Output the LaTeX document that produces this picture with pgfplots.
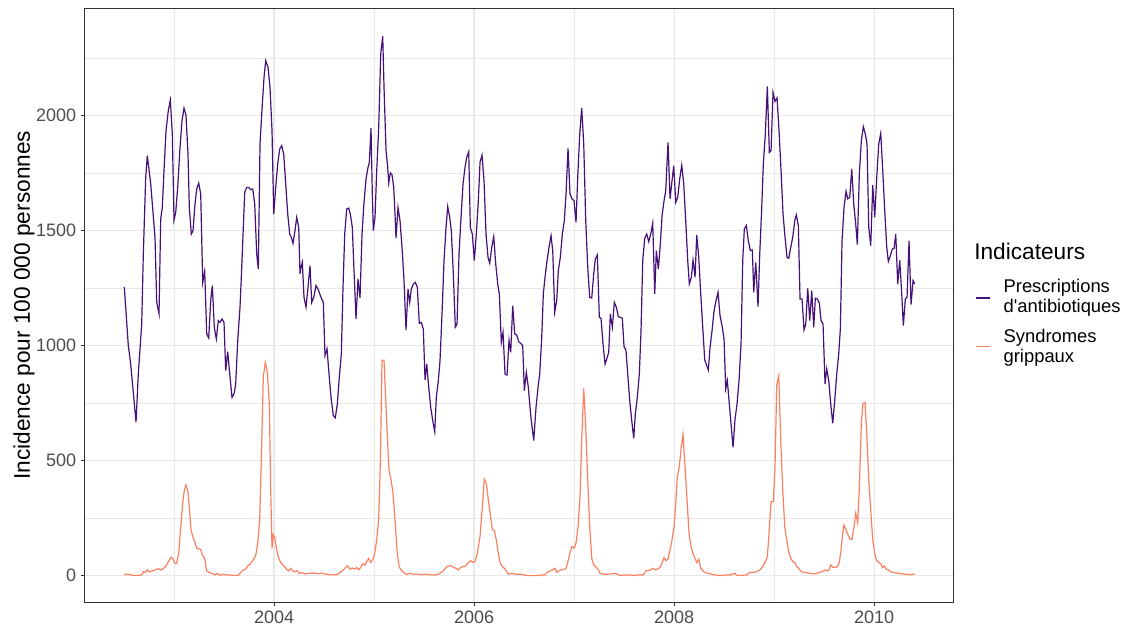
\documentclass[border=0pt]{standalone}
\usepackage{fontspec}
\setmainfont{Liberation Sans}[Ligatures=TeXOff]
\usepackage{pgfplots}
\pgfplotsset{compat=1.18}

\definecolor{antibio}{RGB}{69,16,119}
\definecolor{grippe}{RGB}{250,128,95}
\definecolor{gridgrey}{RGB}{232,232,232}
\definecolor{framegrey}{RGB}{51,51,51}
\definecolor{ticktext}{RGB}{77,77,77}

\begin{document}
\begin{tikzpicture}
\begin{axis}[
  scale only axis,
  width=651.4pt, height=445.9pt,
  xmin=2002.104, xmax=2010.789,
  ymin=-117, ymax=2468,
  xtick={2004,2006,2008,2010},
  xticklabels={2004,2006,2008,2010},
  minor xtick={2003,2005,2007,2009},
  ytick={0,500,1000,1500,2000},
  yticklabels={0,500,1000,1500,2000},
  minor ytick={250,750,1250,1750,2250},
  xtick pos=left, ytick pos=left,
  grid=both,
  major grid style={gridgrey, line width=0.95pt},
  minor grid style={gridgrey, line width=0.5pt},
  tick align=outside,
  major tick length=2.7pt,
  minor tick length=0pt,
  tick style={framegrey, line width=0.6pt},
  axis line style={framegrey, line width=0.6pt},
  tick label style={font=\fontsize{13.5}{15}\selectfont, text=ticktext},
  ylabel={Incidence pour 100 000 personnes},
  ylabel style={at={(rel axis cs:-0.0697,0.5)}, anchor=center, rotate=0,
    font=\fontsize{17}{18}\selectfont},
  clip=false,
]
% Prescriptions d'antibiotiques
\addplot[antibio, line width=0.9pt] coordinates {
(2002.502,1254) (2002.542,1000) (2002.566,920) (2002.619,667) (2002.642,877)
(2002.676,1094) (2002.692,1398) (2002.716,1732) (2002.732,1826) (2002.766,1703)
(2002.809,1471) (2002.826,1188) (2002.849,1138) (2002.866,1551) (2002.882,1601)
(2002.899,1761) (2002.919,1935) (2002.942,2022) (2002.962,2068) (2002.982,1920)
(2002.999,1546) (2003.016,1580) (2003.036,1688) (2003.059,1862) (2003.079,1978)
(2003.099,2033) (2003.119,2000) (2003.139,1833) (2003.152,1601) (2003.172,1485)
(2003.189,1500) (2003.209,1616) (2003.226,1681) (2003.246,1707) (2003.266,1659)
(2003.286,1275) (2003.306,1323) (2003.326,1051) (2003.346,1033) (2003.366,1196)
(2003.382,1261) (2003.402,1080) (2003.422,1029) (2003.442,1109) (2003.459,1101)
(2003.479,1116) (2003.499,1101) (2003.516,891) (2003.536,974) (2003.556,877)
(2003.579,775) (2003.599,790) (2003.616,833) (2003.636,1022) (2003.659,1167)
(2003.679,1370) (2003.706,1667) (2003.726,1688) (2003.746,1688) (2003.766,1678)
(2003.786,1681) (2003.806,1616) (2003.826,1398) (2003.842,1333) (2003.859,1877)
(2003.882,2050) (2003.899,2166) (2003.916,2239) (2003.939,2210) (2003.959,2123)
(2003.979,1935) (2003.996,1572) (2004.016,1688) (2004.036,1790) (2004.056,1855)
(2004.076,1869) (2004.096,1833) (2004.116,1703) (2004.136,1572) (2004.156,1485)
(2004.172,1471) (2004.189,1445) (2004.209,1500) (2004.226,1558) (2004.246,1514)
(2004.259,1312) (2004.269,1341) (2004.282,1362) (2004.299,1210) (2004.319,1167)
(2004.339,1254) (2004.359,1348) (2004.376,1188) (2004.396,1210) (2004.419,1261)
(2004.439,1246) (2004.469,1210) (2004.492,1188) (2004.509,957) (2004.529,986)
(2004.549,877) (2004.569,775) (2004.592,696) (2004.612,686) (2004.632,746)
(2004.652,862) (2004.672,964) (2004.689,1254) (2004.706,1485) (2004.726,1594)
(2004.746,1598) (2004.762,1572) (2004.782,1514) (2004.799,1326) (2004.819,1116)
(2004.839,1290) (2004.859,1207) (2004.879,1485) (2004.899,1623) (2004.919,1725)
(2004.939,1775) (2004.952,1797) (2004.969,1946) (2004.982,1659) (2004.992,1500)
(2005.009,1558) (2005.026,1761) (2005.046,1949) (2005.066,2268) (2005.086,2345)
(2005.099,2123) (2005.119,1848) (2005.136,1775) (2005.146,1707) (2005.162,1751)
(2005.179,1743) (2005.196,1688) (2005.209,1572) (2005.219,1468) (2005.239,1601)
(2005.259,1543) (2005.279,1427) (2005.299,1283) (2005.319,1068) (2005.339,1246)
(2005.356,1188) (2005.372,1246) (2005.392,1268) (2005.412,1275) (2005.432,1254)
(2005.452,1097) (2005.472,1101) (2005.492,1072) (2005.509,851) (2005.526,920)
(2005.546,819) (2005.566,732) (2005.586,674) (2005.606,626) (2005.622,775)
(2005.642,848) (2005.659,935) (2005.679,1138) (2005.699,1370) (2005.719,1514)
(2005.736,1604) (2005.756,1558) (2005.772,1500) (2005.792,1312) (2005.812,1080)
(2005.829,1094) (2005.849,1398) (2005.869,1558) (2005.889,1703) (2005.909,1775)
(2005.926,1819) (2005.946,1843) (2005.962,1514) (2005.982,1485) (2006.002,1370)
(2006.022,1485) (2006.042,1630) (2006.059,1797) (2006.079,1829) (2006.099,1717)
(2006.119,1485) (2006.139,1384) (2006.156,1358) (2006.176,1427) (2006.196,1474)
(2006.216,1355) (2006.236,1268) (2006.252,1225) (2006.272,1014) (2006.289,1058)
(2006.309,877) (2006.329,872) (2006.349,1022) (2006.366,971) (2006.386,1174)
(2006.406,1051) (2006.426,1046) (2006.446,1017) (2006.466,1010) (2006.486,1000)
(2006.502,804) (2006.522,884) (2006.542,819) (2006.566,696) (2006.596,587)
(2006.619,732) (2006.639,819) (2006.656,877) (2006.676,1036) (2006.692,1225)
(2006.709,1297) (2006.729,1369) (2006.749,1427) (2006.769,1478) (2006.786,1413)
(2006.806,1145) (2006.826,1196) (2006.842,1326) (2006.862,1384) (2006.882,1485)
(2006.902,1543) (2006.919,1659) (2006.939,1858) (2006.959,1659) (2006.979,1638)
(2006.999,1630) (2007.019,1536) (2007.036,1732) (2007.056,1920) (2007.076,2033)
(2007.096,1877) (2007.116,1543) (2007.136,1341) (2007.156,1210) (2007.176,1207)
(2007.196,1312) (2007.212,1377) (2007.232,1394) (2007.252,1123) (2007.269,1119)
(2007.289,1007) (2007.309,920) (2007.326,942) (2007.346,971) (2007.362,1138)
(2007.382,1080) (2007.402,1188) (2007.422,1167) (2007.442,1126) (2007.462,1123)
(2007.482,1119) (2007.499,996) (2007.519,978) (2007.536,877) (2007.556,761)
(2007.576,674) (2007.596,597) (2007.612,703) (2007.632,775) (2007.652,877)
(2007.669,1065) (2007.686,1370) (2007.706,1467) (2007.726,1485) (2007.746,1452)
(2007.766,1485) (2007.786,1533) (2007.806,1225) (2007.822,1413) (2007.842,1333)
(2007.862,1442) (2007.879,1565) (2007.899,1630) (2007.916,1674) (2007.939,1884)
(2007.959,1638) (2007.979,1717) (2007.996,1782) (2008.016,1623) (2008.036,1645)
(2008.056,1725) (2008.076,1785) (2008.096,1703) (2008.116,1543) (2008.136,1369)
(2008.152,1268) (2008.172,1297) (2008.189,1372) (2008.209,1297) (2008.226,1481)
(2008.246,1384) (2008.266,1225) (2008.286,1080) (2008.306,938) (2008.326,913)
(2008.342,894) (2008.359,990) (2008.379,1065) (2008.399,1152) (2008.419,1196)
(2008.439,1232) (2008.459,1130) (2008.479,1087) (2008.499,1029) (2008.516,812)
(2008.532,848) (2008.549,761) (2008.569,659) (2008.589,558) (2008.609,681)
(2008.629,746) (2008.649,848) (2008.669,1007) (2008.686,1370) (2008.702,1507)
(2008.722,1522) (2008.742,1456) (2008.762,1413) (2008.782,1416) (2008.796,1232)
(2008.816,1362) (2008.839,1170) (2008.856,1398) (2008.876,1601) (2008.892,1790)
(2008.912,1920) (2008.932,2127) (2008.952,1840) (2008.969,1848) (2008.989,2101)
(2009.009,2062) (2009.029,2077) (2009.049,1935) (2009.069,1761) (2009.089,1572)
(2009.109,1471) (2009.129,1384) (2009.146,1380) (2009.166,1427) (2009.186,1471)
(2009.206,1543) (2009.222,1568) (2009.242,1522) (2009.259,1203) (2009.279,1203)
(2009.299,1068) (2009.316,1094) (2009.336,1249) (2009.356,1109) (2009.376,1239)
(2009.396,1080) (2009.412,1206) (2009.432,1203) (2009.452,1184) (2009.469,1109)
(2009.489,1094) (2009.509,833) (2009.526,899) (2009.546,848) (2009.566,746)
(2009.586,662) (2009.606,761) (2009.626,877) (2009.646,964) (2009.662,1072)
(2009.679,1456) (2009.699,1601) (2009.719,1671) (2009.736,1638) (2009.756,1645)
(2009.776,1768) (2009.796,1616) (2009.816,1529) (2009.832,1439) (2009.852,1746)
(2009.872,1891) (2009.892,1952) (2009.912,1920) (2009.929,1877) (2009.946,1514)
(2009.966,1435) (2009.986,1698) (2010.006,1558) (2010.026,1732) (2010.046,1877)
(2010.066,1923) (2010.086,1761) (2010.106,1587) (2010.126,1427) (2010.142,1366)
(2010.162,1391) (2010.182,1420) (2010.199,1423) (2010.216,1485) (2010.236,1268)
(2010.256,1372) (2010.276,1225) (2010.292,1087) (2010.312,1203) (2010.329,1210)
(2010.349,1456) (2010.369,1178) (2010.389,1283) (2010.406,1268)
};
% Syndromes grippaux
\addplot[grippe, line width=0.9pt] coordinates {
(2002.502,3) (2002.526,7) (2002.559,4) (2002.592,1) (2002.642,1)
(2002.676,3) (2002.692,17) (2002.712,14) (2002.732,25) (2002.752,16)
(2002.776,20) (2002.809,25) (2002.842,30) (2002.866,25) (2002.892,30)
(2002.919,42) (2002.942,59) (2002.969,80) (2002.986,75) (2003.006,54)
(2003.026,54) (2003.046,97) (2003.066,213) (2003.086,314) (2003.102,372)
(2003.119,394) (2003.136,372) (2003.152,300) (2003.169,199) (2003.186,170)
(2003.206,148) (2003.226,119) (2003.246,116) (2003.266,114) (2003.286,85)
(2003.306,75) (2003.326,20) (2003.349,14) (2003.376,10) (2003.409,3)
(2003.432,10) (2003.459,1) (2003.492,6) (2003.526,3) (2003.559,3)
(2003.599,1) (2003.642,1) (2003.666,14) (2003.692,25) (2003.716,28)
(2003.736,43) (2003.759,49) (2003.786,65) (2003.816,87) (2003.836,141)
(2003.856,242) (2003.872,503) (2003.892,865) (2003.912,927) (2003.932,887)
(2003.952,749) (2003.966,372) (2003.979,119) (2003.992,177) (2004.006,165)
(2004.026,112) (2004.046,75) (2004.066,58) (2004.086,46) (2004.106,39)
(2004.126,28) (2004.146,20) (2004.166,32) (2004.186,20) (2004.209,17)
(2004.232,22) (2004.252,10) (2004.276,13) (2004.309,7) (2004.342,10)
(2004.392,12) (2004.426,9) (2004.476,10) (2004.526,6) (2004.576,3)
(2004.626,4) (2004.659,13) (2004.692,25) (2004.716,36) (2004.736,42)
(2004.759,28) (2004.782,33) (2004.802,29) (2004.826,35) (2004.846,25)
(2004.866,36) (2004.886,51) (2004.909,46) (2004.926,61) (2004.946,75)
(2004.966,57) (2004.986,68) (2005.006,97) (2005.026,155) (2005.046,249)
(2005.062,488) (2005.079,937) (2005.099,937) (2005.119,735) (2005.139,546)
(2005.149,459) (2005.169,416) (2005.189,358) (2005.209,242) (2005.229,112)
(2005.249,39) (2005.269,25) (2005.292,14) (2005.326,6) (2005.359,10)
(2005.392,6) (2005.426,7) (2005.476,4) (2005.526,6) (2005.576,3)
(2005.626,4) (2005.659,10) (2005.692,20) (2005.719,36) (2005.742,42)
(2005.769,43) (2005.792,36) (2005.816,32) (2005.842,25) (2005.866,36)
(2005.892,39) (2005.916,42) (2005.942,57) (2005.966,65) (2005.986,57)
(2006.009,61) (2006.032,97) (2006.059,170) (2006.082,300) (2006.102,419)
(2006.122,401) (2006.142,329) (2006.162,264) (2006.182,201) (2006.202,196)
(2006.222,155) (2006.242,97) (2006.262,54) (2006.282,39) (2006.302,32)
(2006.322,20) (2006.342,6) (2006.376,10) (2006.409,6) (2006.476,6)
(2006.526,0) (2006.576,0) (2006.626,0) (2006.676,3) (2006.709,3)
(2006.732,14) (2006.759,20) (2006.786,25) (2006.809,32) (2006.826,14)
(2006.852,22) (2006.876,25) (2006.899,28) (2006.919,30) (2006.942,68)
(2006.962,104) (2006.979,126) (2006.999,119) (2007.019,141) (2007.039,213)
(2007.059,343) (2007.076,590) (2007.096,814) (2007.116,648) (2007.136,416)
(2007.156,213) (2007.176,75) (2007.196,46) (2007.216,39) (2007.236,29)
(2007.259,10) (2007.292,6) (2007.326,6) (2007.359,7) (2007.409,10)
(2007.459,1) (2007.509,3) (2007.559,3) (2007.592,0) (2007.626,3)
(2007.692,3) (2007.719,22) (2007.742,22) (2007.766,25) (2007.786,32)
(2007.809,25) (2007.832,28) (2007.859,36) (2007.879,54) (2007.899,78)
(2007.919,65) (2007.939,72) (2007.959,112) (2007.979,155) (2007.999,213)
(2008.016,314) (2008.032,430) (2008.052,474) (2008.072,561) (2008.089,614)
(2008.109,474) (2008.129,329) (2008.149,184) (2008.169,126) (2008.189,97)
(2008.209,75) (2008.226,57) (2008.246,71) (2008.266,32) (2008.286,22)
(2008.309,13) (2008.342,10) (2008.376,6) (2008.409,3) (2008.459,0)
(2008.509,3) (2008.559,3) (2008.609,10) (2008.626,1) (2008.676,1)
(2008.726,3) (2008.752,14) (2008.792,14) (2008.826,17) (2008.859,25)
(2008.886,39) (2008.909,58) (2008.932,83) (2008.949,184) (2008.969,322)
(2008.992,322) (2009.009,474) (2009.026,829) (2009.046,868) (2009.066,590)
(2009.086,372) (2009.106,213) (2009.126,155) (2009.146,104) (2009.166,75)
(2009.186,61) (2009.206,57) (2009.226,39) (2009.246,32) (2009.266,20)
(2009.292,14) (2009.326,13) (2009.359,10) (2009.392,7) (2009.426,10)
(2009.459,14) (2009.492,20) (2009.509,25) (2009.526,20) (2009.549,25)
(2009.566,46) (2009.586,36) (2009.609,36) (2009.632,39) (2009.652,57)
(2009.669,112) (2009.686,184) (2009.699,220) (2009.719,199) (2009.739,177)
(2009.759,159) (2009.779,158) (2009.799,213) (2009.816,271) (2009.836,230)
(2009.852,387) (2009.872,662) (2009.889,749) (2009.909,753) (2009.926,619)
(2009.946,416) (2009.966,285) (2009.986,155) (2010.006,97) (2010.026,64)
(2010.046,57) (2010.066,51) (2010.086,35) (2010.102,42) (2010.122,28)
(2010.142,25) (2010.162,17) (2010.182,14) (2010.209,13) (2010.242,10)
(2010.276,7) (2010.326,6) (2010.359,4) (2010.406,7)
};
% legend (drawn by hand, ggplot style)
\node[anchor=west, inner sep=0pt, font=\fontsize{17}{19}\selectfont]
  at (rel axis cs:1.0242,0.5901) {Indicateurs};
\draw[antibio, line width=0.8pt] (rel axis cs:1.0261,0.5122) -- (rel axis cs:1.0426,0.5122);
\node[anchor=west, inner sep=0pt, align=left, font=\fontsize{13.8}{15}\selectfont]
  at (rel axis cs:1.0579,0.5122) {Prescriptions\\d'antibiotiques};
\draw[grippe, line width=0.8pt] (rel axis cs:1.0261,0.4303) -- (rel axis cs:1.0426,0.4303);
\node[anchor=west, inner sep=0pt, align=left, font=\fontsize{13.8}{15}\selectfont]
  at (rel axis cs:1.0579,0.4289) {Syndromes\\grippaux};
% canvas size of the reference
\path (rel axis cs:-0.0973,-0.0395) rectangle (rel axis cs:1.2003,1.01346);
\end{axis}
\end{tikzpicture}
\end{document}
